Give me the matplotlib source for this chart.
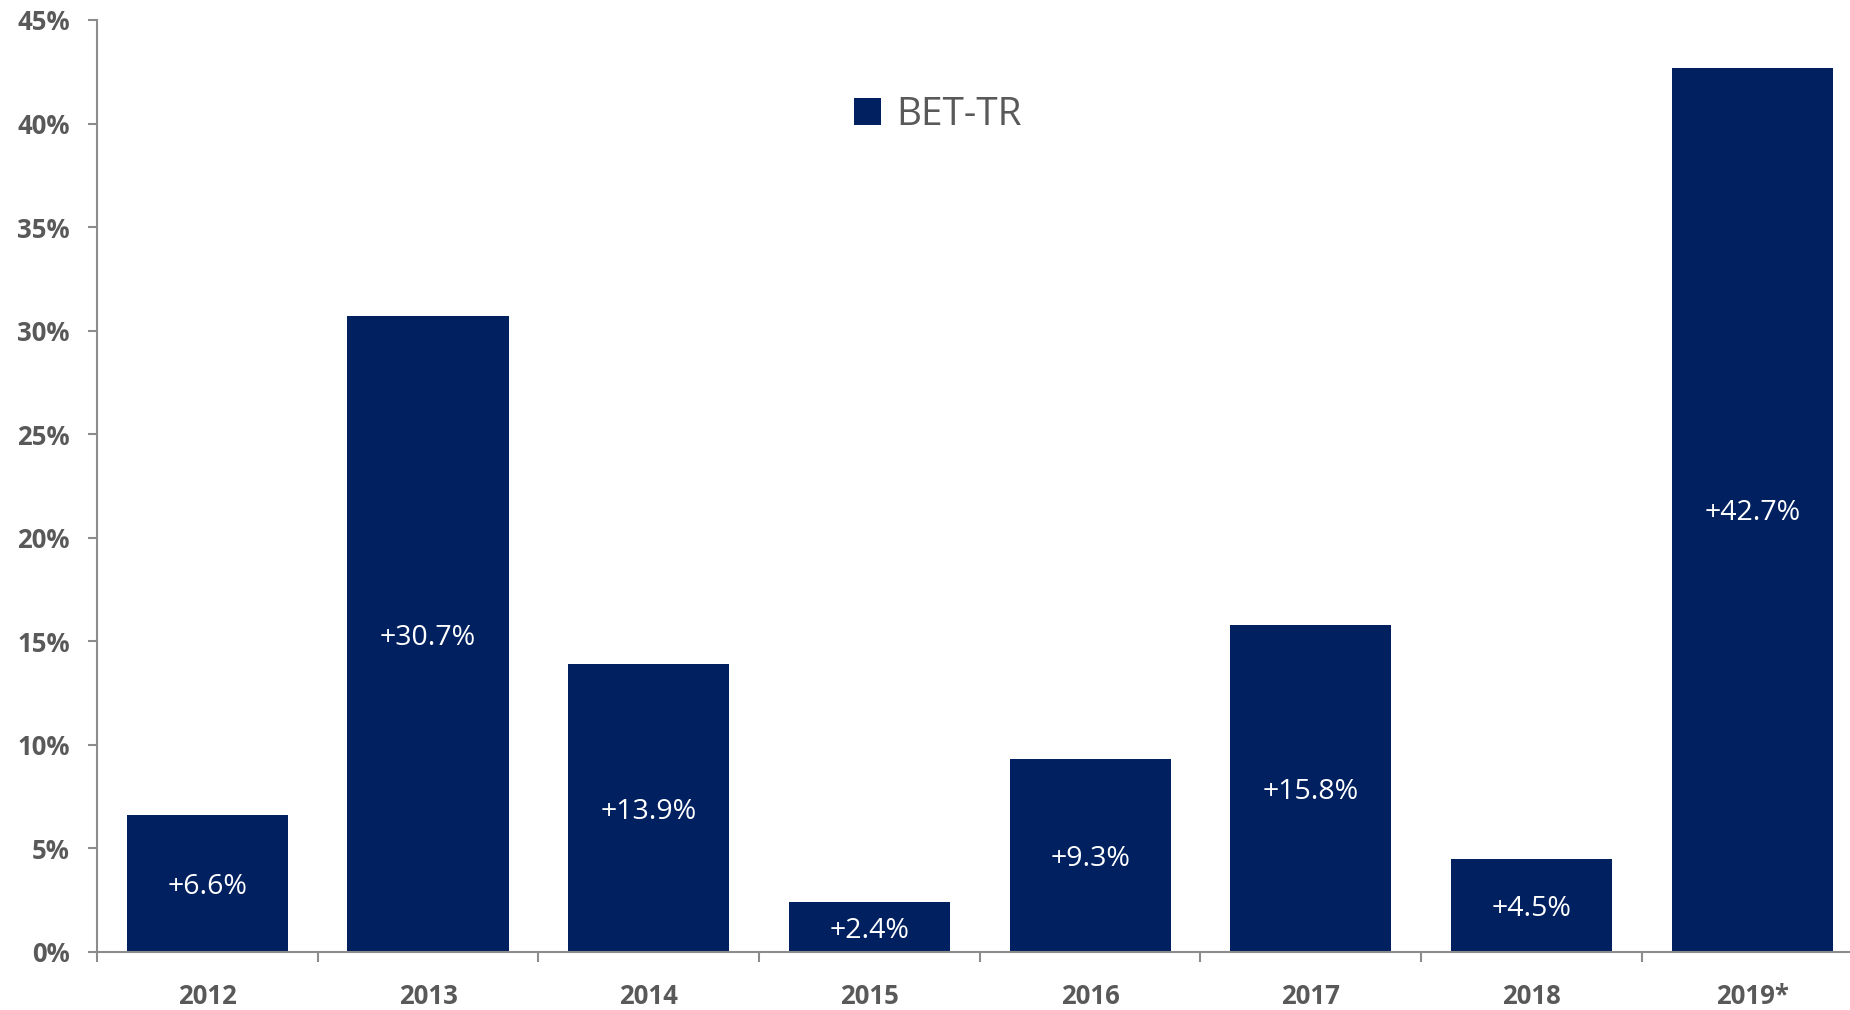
import matplotlib
matplotlib.use("Agg")
import matplotlib.pyplot as plt
import numpy as np

years = ["2012", "2013", "2014", "2015", "2016", "2017", "2018", "2019*"]
returns = [6.6, 30.7, 13.9, 2.4, 9.3, 15.8, 4.5, 42.7]
series_name = "BET-TR"
y_ticks = [0, 5, 10, 15, 20, 25, 30, 35, 40, 45]

bar_color = "#002060"
text_gray = "#595959"
axis_gray = "#8c8c8c"

plt.rcParams["font.family"] = ["Open Sans", "DejaVu Sans"]

fig = plt.figure(figsize=(18.5, 10.1), dpi=100)
ax = fig.add_axes([97 / 1850, 58 / 1010, 1765.6 / 1850, 932 / 1010])

x = np.arange(len(years))
bars = ax.bar(x, returns, width=0.73, color=bar_color, label=series_name, zorder=2)

for xi, v in zip(x, returns):
    ax.text(xi, v / 2, f"+{v:.1f}%", ha="center", va="center_baseline",
            color="white", fontsize=20.5)

ax.set_xlim(-0.5, len(years) - 0.5)
ax.set_ylim(0, 45)
ax.set_yticks(y_ticks)
ax.set_yticklabels([f"{t}%" for t in y_ticks])
ax.set_xticks(x)
ax.set_xticklabels(years)
ax.set_xticks(np.arange(-0.5, len(years), 1.0), minor=True)

for s in ["top", "right"]:
    ax.spines[s].set_visible(False)
for s in ["left", "bottom"]:
    ax.spines[s].set_color(axis_gray)
    ax.spines[s].set_linewidth(1.5)

ax.tick_params(axis="y", which="major", length=6.5, width=1.5, color=axis_gray,
               labelsize=18.5, labelcolor=text_gray, pad=13)
ax.tick_params(axis="x", which="major", length=0, labelsize=18.5,
               labelcolor=text_gray, pad=22)
ax.tick_params(axis="x", which="minor", length=7, width=1.5, color=axis_gray)
for lab in ax.get_yticklabels() + ax.get_xticklabels():
    lab.set_fontweight("bold")

leg = ax.legend(loc="center", bbox_to_anchor=(0.507, 0.886),
                bbox_transform=fig.transFigure, frameon=False, fontsize=28,
                handlelength=0.7, handleheight=0.7, handletextpad=0.4,
                borderpad=0)
for t in leg.get_texts():
    t.set_color(text_gray)

fig.savefig("out.png", dpi=100)
